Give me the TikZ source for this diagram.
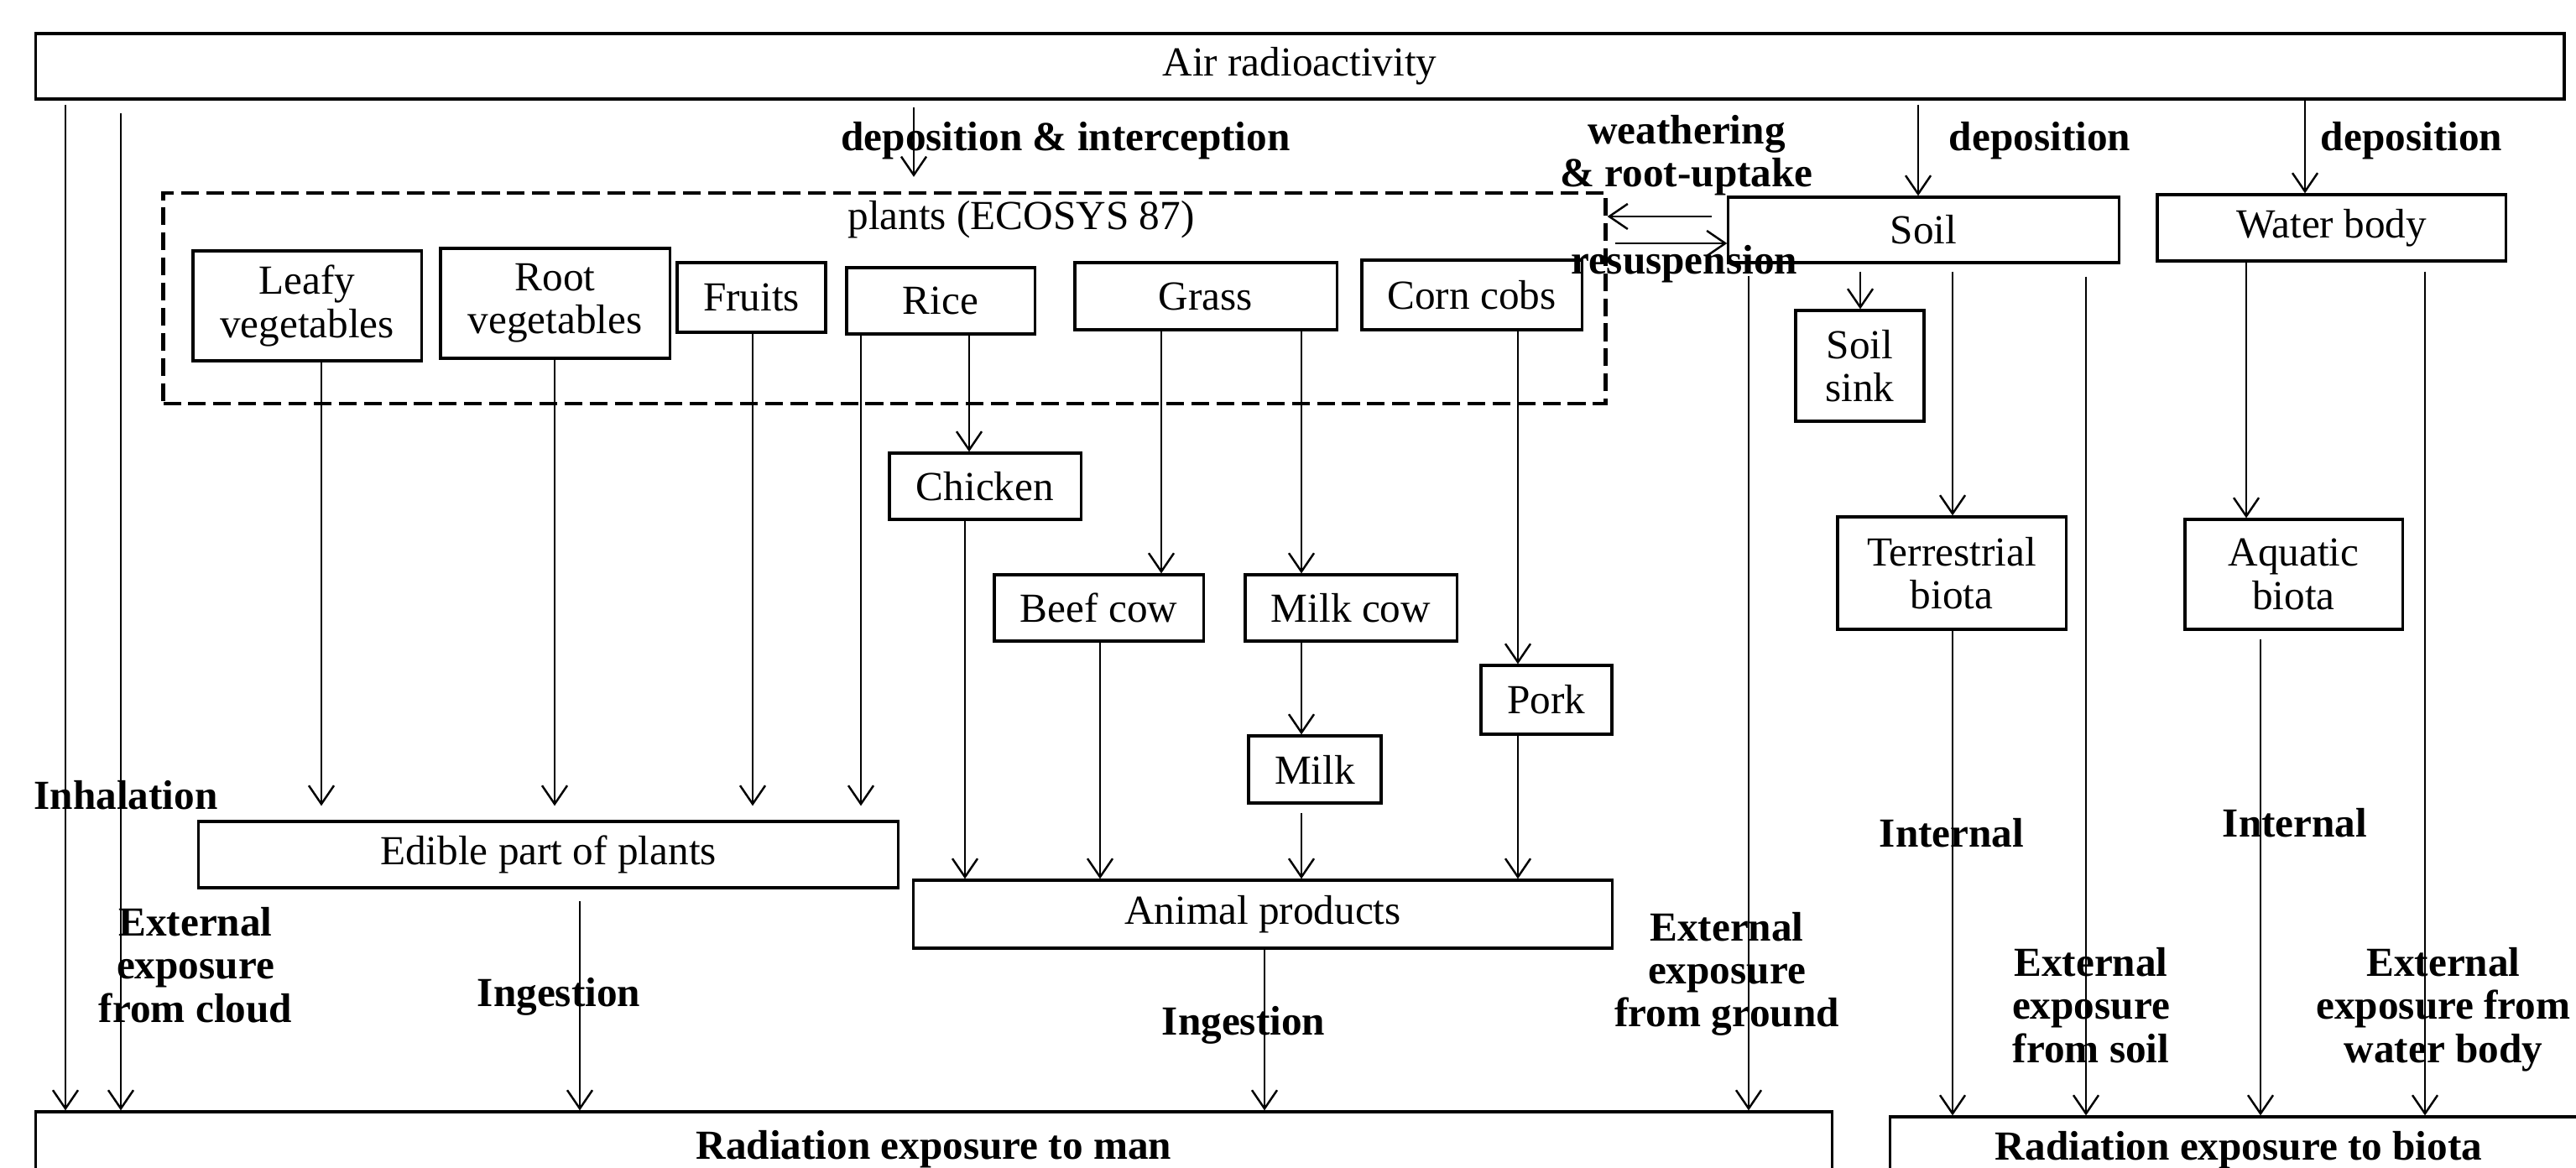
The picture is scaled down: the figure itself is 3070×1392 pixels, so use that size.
\documentclass[tikz,border=0pt]{standalone}
\usepackage{fontspec}
\setmainfont{Liberation Serif}
\usetikzlibrary{arrows.meta}
\newcommand\fs{\fontsize{14}{14.6}\selectfont}
\begin{document}
\begin{tikzpicture}[x=0.01cm,y=-0.01cm,
  box/.style={draw,line width=0.9pt,inner sep=0pt,align=center,font=\fs},
  dbox/.style={draw,line width=1.2pt,dash pattern=on 6pt off 2.5pt,inner sep=0pt},
  lbl/.style={font=\fs\bfseries,align=center,inner sep=0pt},
  arr/.style={line width=0.7pt,-{Straight Barb[length=2.2mm,width=3mm,line width=0.7pt]}}]
\useasboundingbox (0,0) rectangle (3070,1392);
\clip (0,0) rectangle (3070,1392);

% boxes
\node[box,minimum width=30.12cm,minimum height=0.78cm] (air) at (1549,79) {Air radioactivity};
\node[dbox,minimum width=17.18cm,minimum height=2.51cm] (plants) at (1054,355.5) {};
\node[font=\fs,inner sep=0pt] (plantslbl) at (1217,262) {plants (ECOSYS 87)};
\node[box,minimum width=2.72cm,minimum height=1.31cm] (leafy) at (366,364.5) {Leafy\\vegetables};
\node[box,minimum width=2.73cm,minimum height=1.31cm] (root) at (661.5,361.5) {Root\\vegetables};
\node[box,minimum width=1.77cm,minimum height=0.83cm] (fruits) at (895.5,354.5) {Fruits};
\node[box,minimum width=2.24cm,minimum height=0.79cm] (rice) at (1121,358.5) {Rice};
\node[box,minimum width=3.12cm,minimum height=0.80cm] (grass) at (1437,353) {Grass};
\node[box,minimum width=2.62cm,minimum height=0.83cm] (corn) at (1754,351.5) {Corn cobs};
\node[box,minimum width=2.28cm,minimum height=0.79cm] (chicken) at (1174,579.5) {Chicken};
\node[box,minimum width=2.49cm,minimum height=0.79cm] (beef) at (1309.5,724.5) {Beef cow};
\node[box,minimum width=2.52cm,minimum height=0.79cm] (milkcow) at (1610,724.5) {Milk cow};
\node[box,minimum width=1.56cm,minimum height=0.82cm] (pork) at (1843,834) {Pork};
\node[box,minimum width=1.58cm,minimum height=0.80cm] (milk) at (1567,917) {Milk};
\node[box,minimum width=8.33cm,minimum height=0.79cm] (edible) at (653.5,1018.5) {Edible part of plants};
\node[box,minimum width=8.32cm,minimum height=0.81cm] (animal) at (1505,1089.5) {Animal products};
\node[box,minimum width=4.65cm,minimum height=0.78cm] (soil) at (2292.5,274) {Soil};
\node[box,minimum width=4.15cm,minimum height=0.79cm] (water) at (2778.5,271.5) {Water body};
\node[box,minimum width=1.53cm,minimum height=1.32cm] (sink) at (2216.5,436) {Soil\\sink};
\node[box,minimum width=2.72cm,minimum height=1.34cm] (terr) at (2326,683) {Terrestrial\\biota};
\node[box,minimum width=2.59cm,minimum height=1.31cm] (aquatic) at (2733.5,684.5) {Aquatic\\biota};
\node[box,font=\fs\bfseries,minimum width=21.40cm,minimum height=0.90cm] (man) at (1113,1370) {Radiation exposure to man};
\node[box,font=\fs\bfseries,minimum width=8.30cm,minimum height=0.80cm] (biota) at (2668,1371) {Radiation exposure to biota};

% labels
\node[lbl] (ldepint) at (1270,168) {deposition \& interception};
\node[lbl] (lweath) at (2010,185) {weathering\\\& root-uptake};
\node[lbl] (lresus) at (2007,315) {resuspension};
\node[lbl] (ldep1) at (2431,168) {deposition};
\node[lbl] (ldep2) at (2874,168) {deposition};
\node[lbl] (linh) at (150,948) {Inhalation};
\node[lbl] (lcloud) at (233,1150) {External\\exposure\\from cloud};
\node[lbl] (ling1) at (666,1188) {Ingestion};
\node[lbl] (ling2) at (1482,1222) {Ingestion};
\node[lbl] (lground) at (2058,1161) {External\\exposure\\from ground};
\node[lbl] (lint1) at (2326,993) {Internal};
\node[lbl] (lint2) at (2735,981) {Internal};
\node[lbl] (lsoil) at (2492,1198) {External\\exposure\\from soil};
\node[lbl] (lwater) at (2912,1203) {External\\exposure from\\water body};

% air connectors
\draw[arr,shorten <=0.05cm] (air.south -| 78,0) -- (man.north -| 78,0);
\draw[arr,shorten <=0.15cm] (air.south -| 144,0) -- (man.north -| 144,0);
\draw[arr,shorten <=0.08cm,shorten >=0.17cm] (air.south -| 1089,0) -- (plants.north -| 1089,0);
\draw[arr,shorten <=0.05cm] (air.south -| 2286,0) -- (soil.north -| 2286,0);
\draw[arr] (air.south -| 2747,0) -- (water.north -| 2747,0);

% soil <-> plants
\draw[arr,shorten <=0.18cm] (soil.west |- 0,258) -- (plants.east |- 0,258);
\draw[arr,shorten <=0.09cm] (plants.east |- 0,290) -- (soil.west |- 0,290);

% soil / water
\draw[arr,shorten <=0.09cm] (soil.south -| 2217,0) -- (sink.north -| 2217,0);
\draw[arr,shorten <=0.14cm] (soil.south -| 2084,0) -- (man.north -| 2084,0);
\draw[arr,shorten <=0.09cm] (soil.south -| 2327,0) -- (terr.north -| 2327,0);
\draw[arr,shorten <=0.15cm] (soil.south -| 2486,0) -- (biota.north -| 2486,0);
\draw[arr] (terr.south -| 2327,0) -- (biota.north -| 2327,0);
\draw[arr] (water.south -| 2677,0) -- (aquatic.north -| 2677,0);
\draw[arr,shorten <=0.11cm] (water.south -| 2890,0) -- (biota.north -| 2890,0);
\draw[arr,shorten <=0.1cm] (aquatic.south -| 2694,0) -- (biota.north -| 2694,0);

% plants to edible
\draw[arr,shorten >=0.17cm] (leafy.south -| 383,0) -- (edible.north -| 383,0);
\draw[arr,shorten >=0.17cm] (root.south -| 661,0) -- (edible.north -| 661,0);
\draw[arr,shorten >=0.17cm] (fruits.south -| 897,0) -- (edible.north -| 897,0);
\draw[arr,shorten >=0.17cm] (rice.south -| 1026,0) -- (edible.north -| 1026,0);

% animals
\draw[arr] (rice.south -| 1155,0) -- (chicken.north -| 1155,0);
\draw[arr] (grass.south -| 1384,0) -- (beef.north -| 1384,0);
\draw[arr] (grass.south -| 1551,0) -- (milkcow.north -| 1551,0);
\draw[arr] (corn.south -| 1809,0) -- (pork.north -| 1809,0);
\draw[arr] (milkcow.south -| 1551,0) -- (milk.north -| 1551,0);
\draw[arr] (chicken.south -| 1150,0) -- (animal.north -| 1150,0);
\draw[arr] (beef.south -| 1311,0) -- (animal.north -| 1311,0);
\draw[arr,shorten <=0.1cm] (milk.south -| 1551,0) -- (animal.north -| 1551,0);
\draw[arr] (pork.south -| 1809,0) -- (animal.north -| 1809,0);

% to man
\draw[arr,shorten <=0.14cm] (edible.south -| 691,0) -- (man.north -| 691,0);
\draw[arr] (animal.south -| 1507,0) -- (man.north -| 1507,0);
\end{tikzpicture}
\end{document}
